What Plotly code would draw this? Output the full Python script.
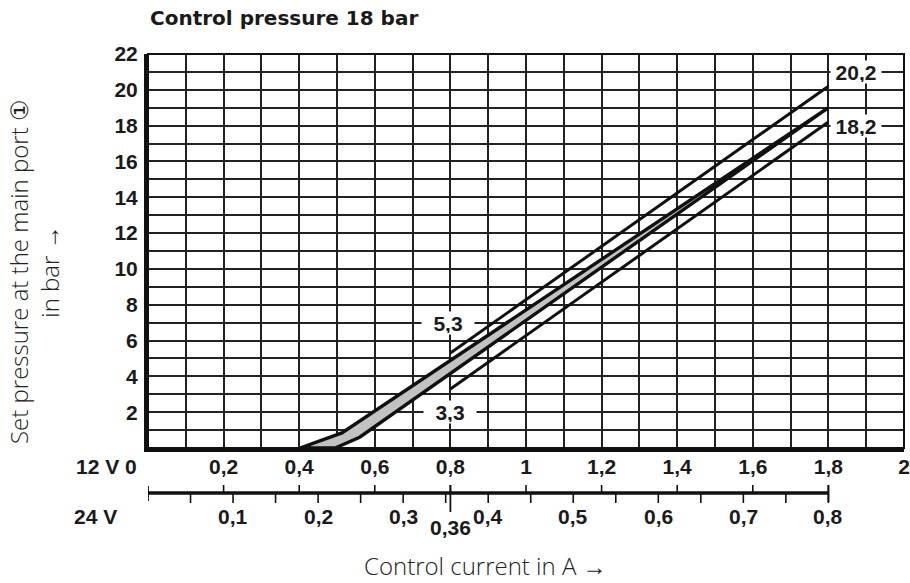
import plotly.graph_objects as go

# ---------------- data ----------------
# 12 V control current axis (A)
x_grid_12v = [round(i * 0.1, 1) for i in range(0, 21)]
x_labels_12v = ["", "", "0,2", "", "0,4", "", "0,6", "", "0,8", "", "1",
                "", "1,2", "", "1,4", "", "1,6", "", "1,8", "", "2"]
# pressure axis (bar)
y_grid = list(range(0, 23))
y_labels = ["" if (v == 0 or v % 2) else str(v) for v in y_grid]

# 24 V control current scale (A) and factor to the 12 V scale
scale_24_to_12 = 2.25
x_ticks_24v = [0.1, 0.2, 0.3, 0.4, 0.5, 0.6, 0.7, 0.8]
x_labels_24v = ["0,1", "0,2", "0,3", "0,4", "0,5", "0,6", "0,7", "0,8"]
x_minor_24v = [0.05, 0.15, 0.25, 0.35, 0.45, 0.55, 0.65, 0.75]
x_mark_24v_at_12v = 0.8      # 0,36 A (24 V) marker, aligned with 0,8 A (12 V)
x_mark_24v_label = "0,36"
x_end_24v = 0.8

# tolerance lines
tol_current = [0.8, 1.8]
tol_upper = [5.3, 20.2]
tol_lower = [3.3, 18.2]

# characteristic band (hysteresis)
band_current = [0.402, 0.513, 1.8, 0.56, 0.495, 0.402]
band_pressure = [0.0, 0.84, 19.0, 0.6, 0.0, 0.0]

# value labels: (current, pressure, text)
value_labels = [(1.873, 21, "20,2"), (1.873, 18, "18,2"),
                (0.794, 7, "5,3"), (0.8, 2, "3,3")]

# ---------------- figure ----------------
L, R, T, B = 148, 6, 54, 135
W, H = 910, 583
plot_w = W - L - R
plot_h = H - T - B


def py(px):
    """pixel row -> paper y"""
    return (H - B - px) / plot_h


def pxx(px):
    return (px - L) / plot_w


tick_font = dict(family="Liberation Sans, Arial, sans-serif", size=21, color="#1a1a1a")
label_font = dict(family="Open Sans, Noto Sans, sans-serif", size=24, color="#222222",
                  weight=300)

fig = go.Figure()

fig.add_trace(go.Scatter(x=band_current, y=band_pressure, mode="lines",
                         fill="toself", fillcolor="#c2c2c2",
                         line=dict(color="#111111", width=3.4), hoverinfo="skip",
                         showlegend=False))
fig.add_trace(go.Scatter(x=tol_current, y=tol_upper, mode="lines",
                         line=dict(color="#111111", width=3), showlegend=False))
fig.add_trace(go.Scatter(x=tol_current, y=tol_lower, mode="lines",
                         line=dict(color="#111111", width=3), showlegend=False))

shapes = []
# frame (thin top / right)
shapes.append(dict(type="rect", xref="paper", yref="paper", x0=0, x1=1, y0=0, y1=1,
                   line=dict(color="#111111", width=2), layer="above"))
# 24 V scale line
y_line = py(493)
shapes.append(dict(type="line", xref="x", yref="paper", x0=0, x1=x_end_24v * scale_24_to_12,
                   y0=y_line, y1=y_line, line=dict(color="#111111", width=3.5)))
# ticks above for 12 V labels
for v, t in zip(x_grid_12v, x_labels_12v):
    if t and v <= x_end_24v * scale_24_to_12 + 1e-9:
        shapes.append(dict(type="line", xref="x", yref="paper", x0=v, x1=v,
                           y0=py(485), y1=y_line, line=dict(color="#111111", width=1.6)))
# ticks below for 24 V scale
for v in x_ticks_24v + x_minor_24v:
    xv = v * scale_24_to_12
    shapes.append(dict(type="line", xref="x", yref="paper", x0=xv, x1=xv,
                       y0=y_line, y1=py(503), line=dict(color="#111111", width=1.6)))
# end ticks
shapes.append(dict(type="line", xref="x", yref="paper", x0=0, x1=0,
                   y0=py(486), y1=py(501), line=dict(color="#111111", width=1.8)))
shapes.append(dict(type="line", xref="x", yref="paper", x0=x_end_24v * scale_24_to_12,
                   x1=x_end_24v * scale_24_to_12, y0=py(485), y1=py(502),
                   line=dict(color="#111111", width=1.8)))
# 0,36 marker
shapes.append(dict(type="line", xref="x", yref="paper", x0=x_mark_24v_at_12v,
                   x1=x_mark_24v_at_12v, y0=py(485), y1=py(512),
                   line=dict(color="#111111", width=1.8)))

annotations = []
annotations.append(dict(text="<b>Control pressure 18 bar</b>", xref="paper", yref="paper",
                        x=0, y=py(18), xanchor="left", yanchor="middle", showarrow=False,
                        font=dict(family="DejaVu Sans, sans-serif", size=20,
                                  color="#1a1a1a")))
annotations.append(dict(text="<b>12 V 0</b>", xref="paper", yref="paper", x=0, y=py(466),
                        xanchor="right", yanchor="middle", xshift=-9, showarrow=False,
                        font=tick_font))
annotations.append(dict(text="<b>24 V</b>", xref="paper", yref="paper", x=0, y=py(516),
                        xanchor="right", yanchor="middle", xshift=-29, showarrow=False,
                        font=tick_font))
for v, t in zip(x_ticks_24v, x_labels_24v):
    annotations.append(dict(text="<b>%s</b>" % t, xref="x", yref="paper",
                            x=v * scale_24_to_12, y=py(516), xanchor="center",
                            yanchor="middle", showarrow=False, font=tick_font))
annotations.append(dict(text="<b>%s</b>" % x_mark_24v_label, xref="x", yref="paper",
                        x=x_mark_24v_at_12v, y=py(527), xanchor="center", yanchor="middle",
                        showarrow=False, font=tick_font))
for xv, yv, t in value_labels:
    annotations.append(dict(text="<b>%s</b>" % t, x=xv, y=yv, xref="x", yref="y",
                            showarrow=False, bgcolor="white",
                            width=48 if len(t) > 3 else 50, height=20,
                            font=tick_font))
annotations.append(dict(text="Control current in A →", xref="paper", yref="paper",
                        x=pxx(485), y=py(565), xanchor="center", yanchor="middle",
                        showarrow=False, font=label_font))
annotations.append(dict(text="Set pressure at the main port ①<br>in bar →", xref="paper",
                        yref="paper", x=pxx(34), y=py(272), xanchor="center",
                        yanchor="middle", textangle=-90, showarrow=False, font=label_font))

fig.update_layout(
    width=W, height=H,
    margin=dict(l=L, r=R, t=T, b=B, pad=0, autoexpand=False),
    paper_bgcolor="white", plot_bgcolor="white",
    shapes=shapes, annotations=annotations, showlegend=False,
    xaxis=dict(range=[0, 2], tickmode="array", tickvals=x_grid_12v,
               ticktext=["<b>%s</b>" % t if t else "" for t in x_labels_12v],
               showgrid=True, gridcolor="#222222", gridwidth=1.5,
               showline=True, linecolor="#111111", linewidth=4,
               ticks="", ticklabelstandoff=-3, tickfont=tick_font, zeroline=False,
               automargin=False, ticklabeloverflow="allow", fixedrange=True),
    yaxis=dict(range=[0, 22], tickmode="array", tickvals=y_grid,
               ticktext=["<b>%s</b>" % t if t else "" for t in y_labels],
               showgrid=True, gridcolor="#222222", gridwidth=1.5,
               showline=True, linecolor="#111111", linewidth=4,
               ticks="", ticklabelstandoff=2, tickfont=tick_font, zeroline=False,
               automargin=False, fixedrange=True),
)

fig.write_html("out.html", config={"displayModeBar": False},
               post_script="document.body.style.margin='0';")
